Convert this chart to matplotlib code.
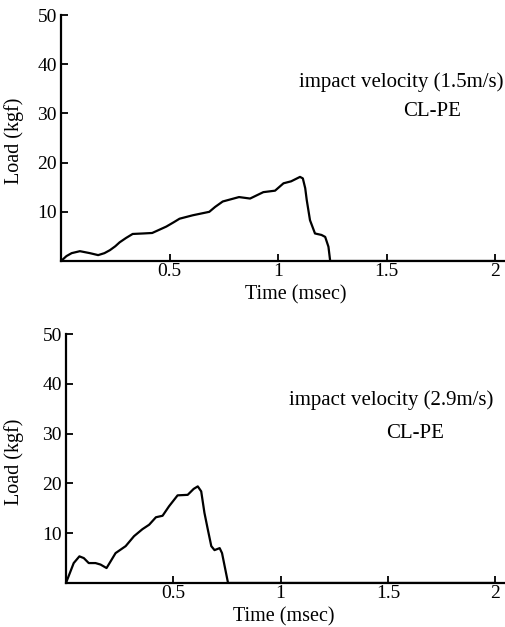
from __future__ import annotations

import matplotlib

matplotlib.use("Agg")
import matplotlib.pyplot as plt

# load-time traces (time in msec, load in kgf)
time_15 = [0.0, 0.025, 0.049, 0.087, 0.133, 0.171, 0.2, 0.225, 0.25, 0.27, 0.3, 0.33, 0.378,
           0.42, 0.45, 0.485, 0.52, 0.546, 0.607, 0.683, 0.71, 0.745, 0.82, 0.871, 0.932,
           0.986, 1.025, 1.06, 1.101, 1.114, 1.125, 1.132, 1.147, 1.17, 1.2, 1.217, 1.232,
           1.24, 2.0]
load_15 = [0.0, 1.0, 1.6, 2.0, 1.6, 1.2, 1.6, 2.2, 3.0, 3.8, 4.7, 5.5, 5.6,
           5.7, 6.3, 7.0, 7.9, 8.6, 9.3, 10.0, 11.0, 12.1, 13.0, 12.7, 14.0,
           14.3, 15.8, 16.2, 17.1, 16.8, 14.8, 12.4, 8.3, 5.6, 5.3, 4.9, 2.9,
           0.0, 0.0]

time_29 = [0.0, 0.018, 0.036, 0.0625, 0.083, 0.106, 0.1375, 0.161, 0.189, 0.208, 0.231,
           0.278, 0.317, 0.356, 0.3875, 0.419, 0.45, 0.48, 0.52, 0.567, 0.595, 0.614,
           0.63, 0.645, 0.661, 0.677, 0.692, 0.716, 0.727, 0.755, 2.0]
load_29 = [0.0, 2.0, 4.0, 5.35, 5.0, 4.0, 4.0, 3.7, 3.0, 4.35, 6.0,
           7.4, 9.4, 10.8, 11.7, 13.2, 13.5, 15.4, 17.6, 17.7, 18.9, 19.4,
           18.4, 14.1, 10.7, 7.4, 6.6, 7.0, 6.0, 0.0, 0.0]

x_ticks = [0.5, 1.0, 1.5, 2.0]
x_tick_labels = ["0.5", "1", "1.5", "2"]
y_ticks = [10, 20, 30, 40, 50]
velocity_labels = ["impact velocity (1.5m/s)", "impact velocity (2.9m/s)"]
material = "CL-PE"


def style_axis(ax, xlabel_pos, ylabel_pos):
    ax.set_xlim(0, 2.05)
    ax.set_ylim(0, 50)
    for side in ("top", "right"):
        ax.spines[side].set_visible(False)
    for side in ("left", "bottom"):
        ax.spines[side].set_linewidth(1.6)
    ax.set_xticks(x_ticks)
    ax.set_xticklabels(x_tick_labels)
    ax.set_yticks(y_ticks)
    ax.tick_params(axis="x", direction="in", length=5, width=1.3, pad=1.5, labelsize=14)
    ax.tick_params(axis="y", direction="in", length=5, width=1.3, pad=3, labelsize=14)
    ax.set_xlabel("Time (msec)", fontsize=14.5)
    ax.set_ylabel("Load (kgf)", fontsize=14.5)
    ax.xaxis.set_label_coords(*xlabel_pos)
    ax.yaxis.set_label_coords(*ylabel_pos)


def main() -> None:
    plt.rcParams["font.family"] = ["Liberation Serif", "DejaVu Serif"]
    fig = plt.figure(figsize=(5.06, 6.27), dpi=100)

    ax_top = fig.add_axes([0.1206, 0.5837, 0.8794, 0.3923])
    ax_bot = fig.add_axes([0.1304, 0.0702, 0.8696, 0.3971])

    ax_top.plot(time_15, load_15, color="black", lw=1.6)
    ax_bot.plot(time_29, load_29, color="black", lw=1.6)

    style_axis(ax_top, (0.527, -0.1), (-0.083, 0.49))
    style_axis(ax_bot, (0.494, -0.096), (-0.095, 0.486))

    ax_top.text(0.765, 0.728, velocity_labels[0], transform=ax_top.transAxes,
                ha="center", va="center", fontsize=15)
    ax_top.text(0.834, 0.606, material, transform=ax_top.transAxes,
                ha="center", va="center", fontsize=15)
    ax_bot.text(0.739, 0.735, velocity_labels[1], transform=ax_bot.transAxes,
                ha="center", va="center", fontsize=15)
    ax_bot.text(0.793, 0.602, material, transform=ax_bot.transAxes,
                ha="center", va="center", fontsize=15)

    fig.savefig("out.png", dpi=100)
    plt.close(fig)


if __name__ == "__main__":
    main()
